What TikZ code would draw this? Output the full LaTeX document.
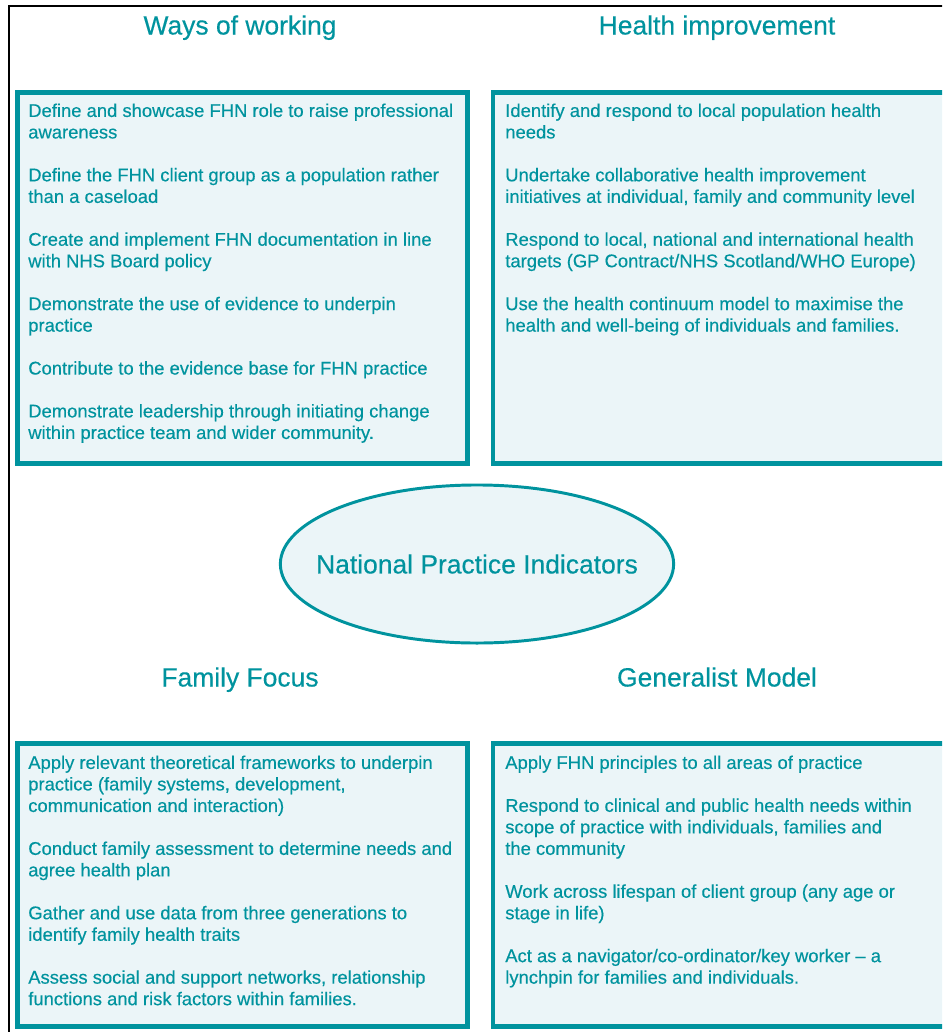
\documentclass[tikz,border=0pt]{standalone}
\usepackage{fontspec}
\setmainfont{Liberation Sans}[FakeBold=0.35]
\usepackage{xcolor}
\definecolor{fhnteal}{RGB}{0, 147, 158}
\definecolor{fhnpale}{RGB}{235, 245, 248}
\usetikzlibrary{shapes.geometric, positioning}
\newcommand{\pgap}{\\[15.2pt]}

\begin{document}
\begin{tikzpicture}[x=0.025cm, y=-0.025cm,
    heading/.style={text=fhnteal, font=\fontsize{18.8}{22}\selectfont, anchor=base, inner sep=0pt},
    panel/.style={draw=fhnteal, fill=fhnpale, line width=3.2pt},
    items/.style={text=fhnteal, font=\fontsize{13.1}{15.3}\selectfont, align=left, anchor=north west, inner sep=0pt}]
        \useasboundingbox (0,0) rectangle (942,1032);
        \clip (0,0) rectangle (942,1032);
        % Marco exterior
        \draw[line width=1.6pt] (8.7,1040) -- (8.7,6.2) -- (950,6.2);

        % Titulos
        \node[heading] (tw) at (240,34.5) {Ways of working};
        \node[heading] (th) at (717,34.5) {Health improvement};
        \node[heading] (tf) at (240,686.5) {Family Focus};
        \node[heading] (tg) at (717,686.5) {Generalist Model};

        % Cajas
        \draw[panel] (17.5,92.5) rectangle (467.5,463.5);
        \draw[panel] (493,92.5) rectangle (946,463.5);
        \draw[panel] (17.5,743.5) rectangle (467.5,1026.5);
        \draw[panel] (493,743.5) rectangle (946,1026.5);

        %######## Caja superior izquierda #############
        \node[items] (bw) at (28,103.3) {Define and showcase FHN role to raise professional\\
            awareness\pgap
            Define the FHN client group as a population rather\\
            than a caseload\pgap
            Create and implement FHN documentation in line\\
            with NHS Board policy\pgap
            Demonstrate the use of evidence to underpin\\
            practice\pgap
            Contribute to the evidence base for FHN practice\pgap
            Demonstrate leadership through initiating change\\
            within practice team and wider community.};

        %######## Caja superior derecha #############
        \node[items] (bh) at (505,103.3) {Identify and respond to local population health\\
            needs\pgap
            Undertake collaborative health improvement\\
            initiatives at individual, family and community level\pgap
            Respond to local, national and international health\\
            targets (GP Contract/NHS Scotland/WHO Europe)\pgap
            Use the health continuum model to maximise the\\
            health and well-being of individuals and families.};

        % Elipse central
        \node[ellipse, draw=fhnteal, fill=fhnpale, line width=2.1pt,
              minimum width=9.83cm, minimum height=3.95cm, inner sep=0pt] (npi) at (477,564) {};
        \node[text=fhnteal, font=\fontsize{18.8}{22}\selectfont, inner sep=0pt] (npit) at (npi.center)
              {National Practice Indicators};

        %######## Caja inferior izquierda #############
        \node[items] (bf) at (28,755.3) {Apply relevant theoretical frameworks to underpin\\
            practice (family systems, development,\\
            communication and interaction)\pgap
            Conduct family assessment to determine needs and\\
            agree health plan\pgap
            Gather and use data from three generations to\\
            identify family health traits\pgap
            Assess social and support networks, relationship\\
            functions and risk factors within families.};

        %######## Caja inferior derecha #############
        \node[items] (bg) at (505,755.3) {Apply FHN principles to all areas of practice\pgap
            Respond to clinical and public health needs within\\
            scope of practice with individuals, families and\\
            the community\pgap
            Work across lifespan of client group (any age or\\
            stage in life)\pgap
            Act as a navigator/co-ordinator/key worker -- a\\
            lynchpin for families and individuals.};
\end{tikzpicture}
\end{document}
